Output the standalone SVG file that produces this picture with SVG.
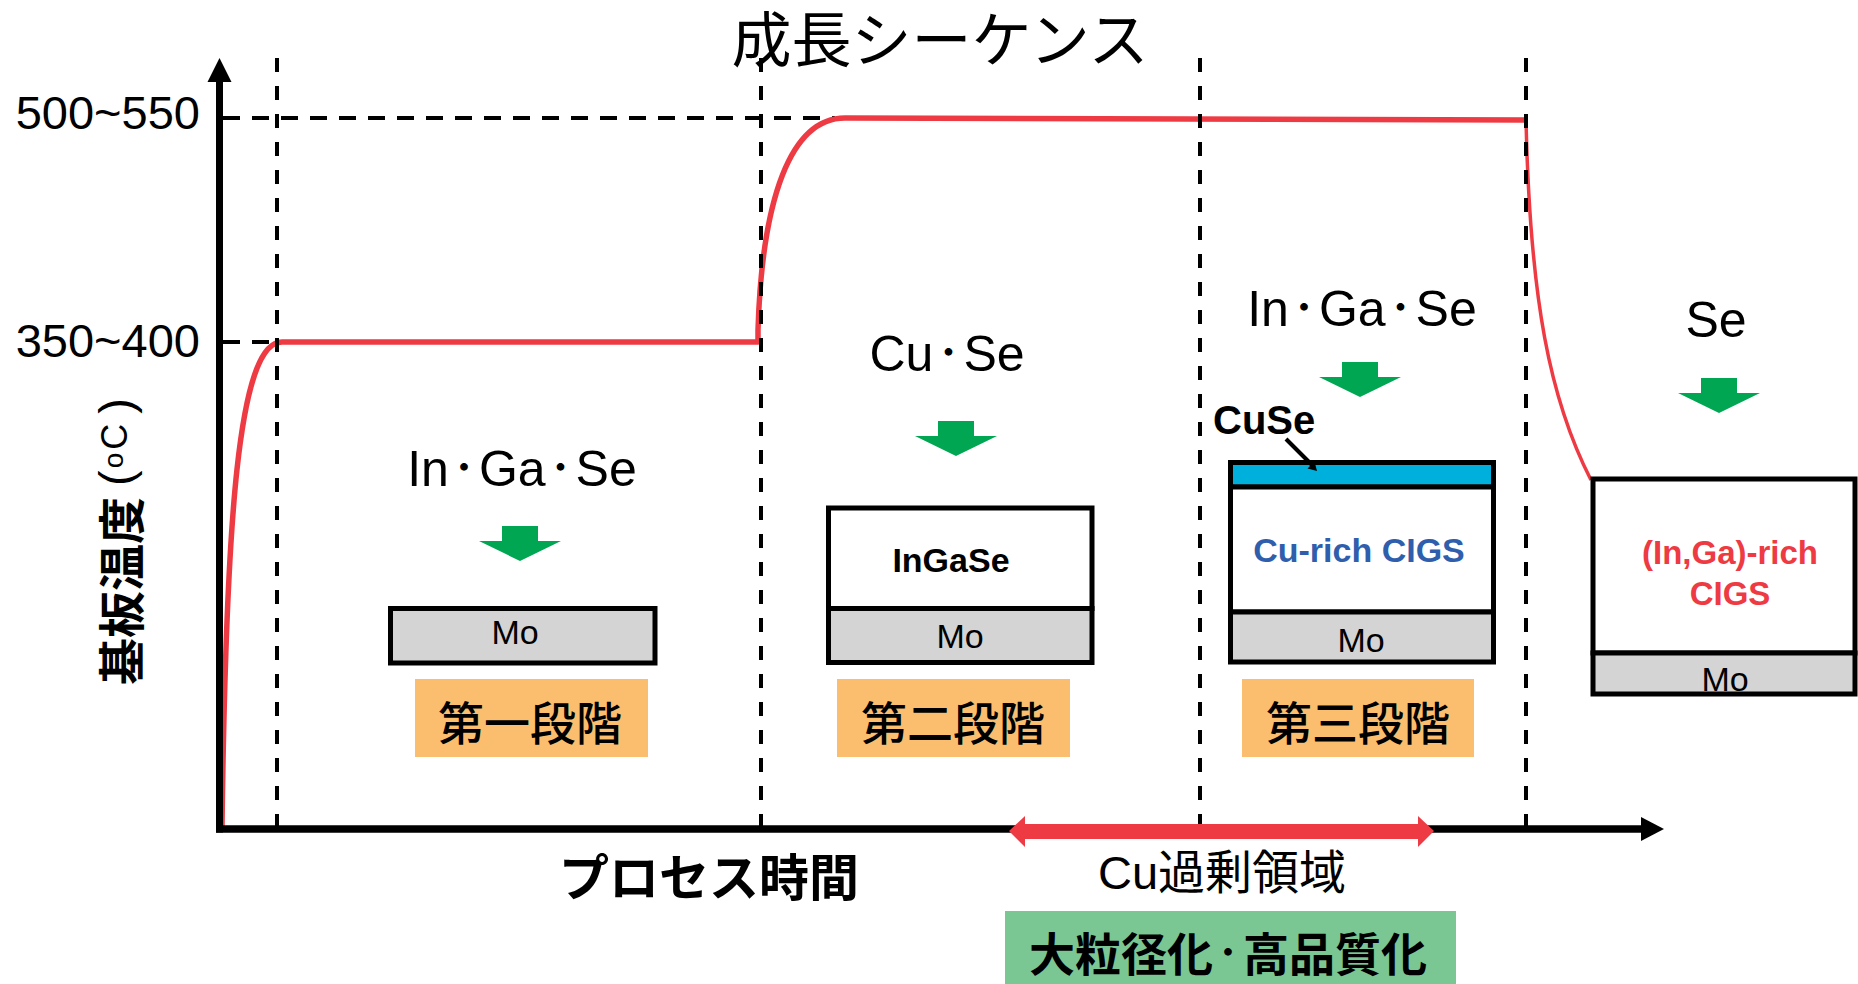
<svg xmlns="http://www.w3.org/2000/svg" width="1858" height="984" viewBox="0 0 1858 984">
<defs>
<style>
.lat{font-family:"Liberation Sans",Arial,sans-serif}
.jp{font-family:"Noto Sans CJK JP","Liberation Sans",sans-serif}
.dot{font-family:"Noto Sans CJK JP",sans-serif;font-size:30px;font-weight:bold}
.vdash{stroke:#000;stroke-width:4;stroke-dasharray:14 14;fill:none}
.hdash{stroke:#000;stroke-width:4;stroke-dasharray:17 12;fill:none}
.box{stroke:#000;stroke-width:5}
.mo{fill:#D4D4D4}
.stage{fill:#FBBE6E}
.ga{fill:#00A651}
.red{stroke:#EE3A43;fill:none;stroke-linejoin:round}
</style>
<path id="ga" d="M-18,-35 H18 V-20 H41 L0,0 L-41,-20 H-18 Z"/>
</defs>
<rect width="1858" height="984" fill="#fff"/>

<g id="title"><text class="jp" x="940" y="62" font-size="60" text-anchor="middle">成長シーケンス</text></g>

<g id="guides">
<line class="hdash" x1="223" y1="118" x2="835" y2="118"/>
<line class="hdash" x1="223" y1="342" x2="275" y2="342"/>
</g>

<g id="temperature-curve">
<path class="red" stroke-width="5.5" d="M222,826 C226,520 238,342 282,342 L758,342 L758,330 C762,200 790,118 845,118 L1526,120"/>
<path class="red" stroke-width="3.5" d="M1526,120 C1530,300 1550,400 1591,480"/>
</g>

<g id="stage-dividers">
<line class="vdash" x1="277" y1="58" x2="277" y2="826"/>
<line class="vdash" x1="761" y1="58" x2="761" y2="826"/>
<line class="vdash" x1="1200" y1="58" x2="1200" y2="826"/>
<line class="vdash" x1="1526" y1="58" x2="1526" y2="826"/>
</g>

<g id="y-labels">
<text class="lat" x="200" y="129" font-size="47" text-anchor="end">500~550</text>
<text class="lat" x="200" y="357" font-size="47" text-anchor="end">350~400</text>
</g>

<g id="y-axis-title">
<text transform="translate(139,685) rotate(-90)" font-size="47"><tspan class="jp" font-weight="bold">基板温度</tspan><tspan class="lat" dx="11" dy="-7">(</tspan><tspan class="lat" font-size="28" dx="2" dy="-9">o</tspan><tspan class="lat" font-size="36" dx="3" dy="4">C</tspan><tspan class="lat" dx="10" dy="5">)</tspan></text>
</g>

<g id="stage1">
<text class="lat" x="522" y="486" font-size="50" text-anchor="middle">In<tspan class="dot" dy="-8">・</tspan><tspan dy="8">Ga</tspan><tspan class="dot" dy="-8">・</tspan><tspan dy="8">Se</tspan></text>
<use href="#ga" x="520" y="561" class="ga"/>
<rect class="box mo" x="390.5" y="608.5" width="264.5" height="54.5"/>
<text class="lat" x="515" y="644" font-size="34" text-anchor="middle">Mo</text>
<rect class="stage" x="415" y="679" width="233" height="78"/>
<text class="jp" x="530" y="740" font-size="46" font-weight="500" text-anchor="middle">第一段階</text>
</g>

<g id="stage2">
<text class="lat" x="947" y="371" font-size="50" text-anchor="middle">Cu<tspan class="dot" dy="-8">・</tspan><tspan dy="8">Se</tspan></text>
<use href="#ga" x="956" y="456" class="ga"/>
<rect class="box" fill="#fff" x="828.5" y="508" width="263.5" height="100.5"/>
<rect class="box mo" x="828.5" y="608.5" width="263.5" height="54"/>
<text class="lat" x="951" y="572" font-size="34" font-weight="bold" text-anchor="middle">InGaSe</text>
<text class="lat" x="960" y="648" font-size="34" text-anchor="middle">Mo</text>
<rect class="stage" x="837" y="679" width="233" height="78"/>
<text class="jp" x="953" y="740" font-size="46" font-weight="500" text-anchor="middle">第二段階</text>
</g>

<g id="stage3">
<text class="lat" x="1362" y="326" font-size="50" text-anchor="middle">In<tspan class="dot" dy="-8">・</tspan><tspan dy="8">Ga</tspan><tspan class="dot" dy="-8">・</tspan><tspan dy="8">Se</tspan></text>
<use href="#ga" x="1360" y="397" class="ga"/>
<rect class="box" fill="#00B0DC" x="1230.5" y="462.5" width="263" height="24.5"/>
<rect class="box" fill="#fff" x="1230.5" y="487" width="263" height="125"/>
<rect class="box mo" x="1230.5" y="612" width="263" height="50"/>
<text class="lat" x="1213" y="434" font-size="40" font-weight="bold">CuSe</text>
<line x1="1286" y1="439" x2="1313" y2="466" stroke="#000" stroke-width="4"/>
<polygon points="1317,471 1307.5,468.5 1314.5,461.5" fill="#000"/>
<text class="lat" x="1359" y="562" font-size="34" font-weight="bold" fill="#2F5FAC" text-anchor="middle">Cu-rich CIGS</text>
<text class="lat" x="1361" y="652" font-size="34" text-anchor="middle">Mo</text>
<rect class="stage" x="1242" y="679" width="232" height="78"/>
<text class="jp" x="1358" y="740" font-size="46" font-weight="500" text-anchor="middle">第三段階</text>
</g>

<g id="stage4">
<text class="lat" x="1716" y="337" font-size="50" text-anchor="middle">Se</text>
<use href="#ga" x="1719" y="413" class="ga"/>
<rect class="box" fill="#fff" x="1593" y="479" width="262" height="174"/>
<rect class="box mo" x="1593" y="653" width="262" height="41"/>
<text class="lat" font-size="33" font-weight="bold" fill="#EE3A43" text-anchor="middle"><tspan x="1730" y="564">(In,Ga)-rich</tspan><tspan x="1730" y="605">CIGS</tspan></text>
<text class="lat" x="1725" y="691" font-size="34" text-anchor="middle">Mo</text>
</g>

<g id="axes">
<line x1="219.5" y1="832.5" x2="219.5" y2="80" stroke="#000" stroke-width="7"/>
<polygon points="207.5,82 219.5,58 231.5,82" fill="#000"/>
<line x1="216" y1="829" x2="1642" y2="829" stroke="#000" stroke-width="7.5"/>
<polygon points="1641,817 1664,829 1641,841" fill="#000"/>
</g>

<g id="cu-excess">
<polygon points="1009,831 1025,816 1025,824 1418,824 1418,816 1434,831 1418,847 1418,839 1025,839 1025,847" fill="#EE3A43"/>
<text class="lat" x="1222" y="889" font-size="47" text-anchor="middle">Cu<tspan class="jp">過剰領域</tspan></text>
</g>

<g id="x-axis-title">
<text class="jp" x="709" y="896" font-size="50" font-weight="bold" text-anchor="middle">プロセス時間</text>
</g>

<g id="result">
<rect x="1005" y="911" width="451" height="80" fill="#7BC794"/>
<text class="jp" x="1228" y="971" font-size="46" font-weight="bold" text-anchor="middle">大粒径化<tspan class="dot" dy="-8">・</tspan><tspan dy="8">高品質化</tspan></text>
</g>
</svg>
